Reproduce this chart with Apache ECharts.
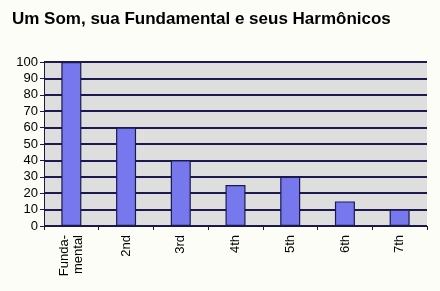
<!DOCTYPE html>
<html><head><meta charset="utf-8">
<script src="https://cdn.jsdelivr.net/npm/echarts@6/dist/echarts.min.js"></script>
<style>html,body{margin:0;padding:0;background:#fdfdf7}#c{width:440px;height:291px}</style>
</head><body><div id="c"></div>
<script>
const titleText = "Um Som, sua Fundamental e seus Harmônicos";
const categories = ["Funda-\nmental", "2nd", "3rd", "4th", "5th", "6th", "7th"];
const values = [100, 60, 40, 25, 30, 15, 10];
const yTicks = [0, 10, 20, 30, 40, 50, 60, 70, 80, 90, 100];

const chart = echarts.init(document.getElementById('c'), null, {renderer: 'canvas'});
chart.setOption({
  backgroundColor: '#fdfdf7',
  animation: false,
  title: {
    text: titleText, left: 7, top: 6,
    textStyle: {fontFamily: 'Liberation Sans, Arial', fontSize: 17, fontWeight: 'bold', color: '#000'}
  },
  grid: {left: 44, right: 13, top: 62, bottom: 65, show: true, backgroundColor: '#dedede', borderColor: '#1a1a40', borderWidth: 0},
  xAxis: {
    type: 'category', data: categories,
    axisLine: {lineStyle: {color: '#1a1a40', width: 1}},
    axisTick: {show: true, length: 4, lineStyle: {color: '#1a1a40'}},
    axisLabel: {rotate: 90, fontFamily: 'Liberation Sans, Arial', fontSize: 13, color: '#000', margin: 9, lineHeight: 14}
  },
  yAxis: {
    type: 'value', min: yTicks[0], max: yTicks[yTicks.length - 1], interval: 10,
    axisLine: {show: true, lineStyle: {color: '#1a1a40', width: 1}},
    axisTick: {show: true, length: 4, lineStyle: {color: '#1a1a40'}},
    splitLine: {show: true, lineStyle: {color: '#1a1a50', width: 1.8}},
    axisLabel: {fontFamily: 'Liberation Sans, Arial', fontSize: 13, color: '#000', margin: 6}
  },
  series: [{
    type: 'bar', data: values, barWidth: 20,
    itemStyle: {color: '#7878ee', borderColor: '#1a1a50', borderWidth: 1.2}
  }]
});
</script></body></html>
